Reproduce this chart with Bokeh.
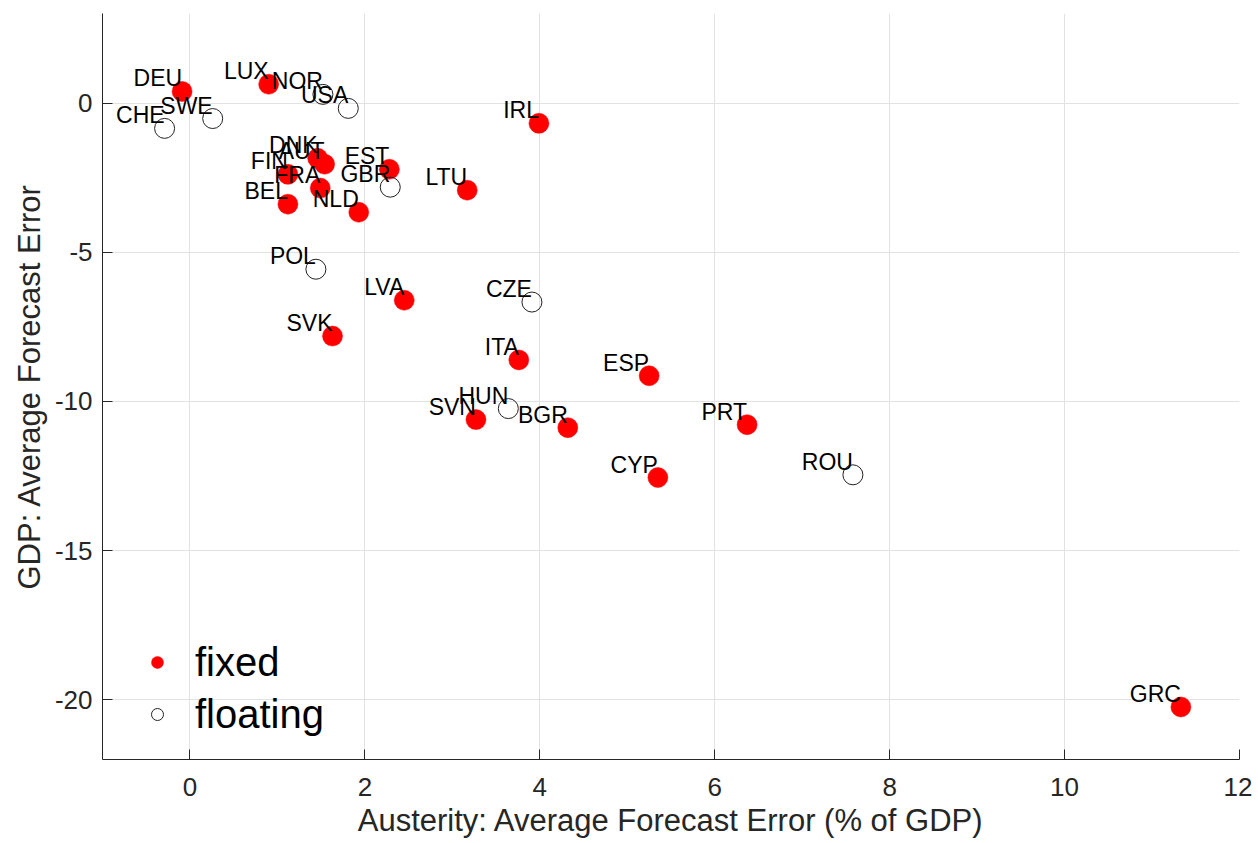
from bokeh.plotting import figure
from bokeh.models import ColumnDataSource, Legend, LegendItem, FixedTicker, Range1d
from bokeh.core.properties import value
from bokeh.embed import file_html
from bokeh.resources import INLINE

# ---- data ----
fixed_names = ["DEU", "LUX", "DNK", "AUT", "FIN", "FRA", "BEL", "NLD", "EST", "LTU",
               "IRL", "LVA", "SVK", "ITA", "ESP", "SVN", "BGR", "CYP", "PRT", "GRC"]
fixed_x = [-0.09, 0.90, 1.46, 1.54, 1.12, 1.49, 1.12, 1.93, 2.28, 3.17,
           3.99, 2.45, 1.63, 3.76, 5.25, 3.27, 4.32, 5.35, 6.37, 11.33]
fixed_y = [0.39, 0.63, -1.85, -2.05, -2.39, -2.85, -3.39, -3.66, -2.22, -2.92,
           -0.68, -6.61, -7.81, -8.61, -9.14, -10.61, -10.88, -12.55, -10.78, -20.24]

float_names = ["CHE", "SWE", "NOR", "USA", "GBR", "POL", "CZE", "HUN", "ROU"]
float_x = [-0.29, 0.26, 1.52, 1.81, 2.29, 1.44, 3.91, 3.64, 7.58]
float_y = [-0.85, -0.52, 0.29, -0.18, -2.82, -5.57, -6.67, -10.24, -12.46]

x_ticks = [0, 2, 4, 6, 8, 10, 12]
y_ticks = [-20, -15, -10, -5, 0]

FONT = "Liberation Sans"
AX = "#262626"

p = figure(width=1252, height=840, x_range=Range1d(-1, 12), y_range=Range1d(-22, 3),
           output_backend="svg", toolbar_location=None,
           min_border_left=102, min_border_right=13, min_border_top=13, min_border_bottom=80)
p.outline_line_color = None
p.background_fill_color = "white"

src_fixed = ColumnDataSource(dict(x=fixed_x, y=fixed_y, name=fixed_names))
src_float = ColumnDataSource(dict(x=float_x, y=float_y, name=float_names))

r_fixed = p.scatter("x", "y", source=src_fixed, size=20, marker="circle",
                    fill_color="#ff0000", line_color="#ff0000", line_width=0.5)
r_float = p.scatter("x", "y", source=src_float, size=20, marker="circle",
                    fill_color="white", fill_alpha=0, line_color="#222222", line_width=1)

for src in (src_fixed, src_float):
    p.text("x", "y", text="name", source=src, text_align="right", text_baseline="bottom",
           text_font=value(FONT), text_font_size="23px", text_color="black")

for ax in (p.xaxis, p.yaxis):
    ax.axis_line_color = AX
    ax.major_tick_line_color = AX
    ax.major_tick_in = 10
    ax.major_tick_out = 0
    ax.minor_tick_line_color = None
    ax.major_label_text_font = FONT
    ax.major_label_text_font_size = "26px"
    ax.major_label_text_color = AX
    ax.axis_label_text_font = FONT
    ax.axis_label_text_font_size = "31px"
    ax.axis_label_text_font_style = "normal"
    ax.axis_label_text_color = AX

p.xaxis.ticker = FixedTicker(ticks=x_ticks)
p.yaxis.ticker = FixedTicker(ticks=y_ticks)
p.xaxis.major_label_overrides = {t: str(t) for t in x_ticks}
p.yaxis.major_label_overrides = {t: str(t) for t in y_ticks}
p.xaxis.major_label_standoff = 18
p.yaxis.major_label_standoff = 10
p.xaxis.axis_label = "Austerity: Average Forecast Error (% of GDP)"
p.yaxis.axis_label = "GDP: Average Forecast Error"
p.xaxis.axis_label_standoff = 4
p.yaxis.axis_label_standoff = 5

p.xgrid.ticker = FixedTicker(ticks=x_ticks)
p.ygrid.ticker = FixedTicker(ticks=y_ticks)
for g in (p.xgrid, p.ygrid):
    g.grid_line_color = "#e2e2e2"
    g.grid_line_width = 1

legend = Legend(items=[LegendItem(label="fixed", renderers=[r_fixed]),
                       LegendItem(label="floating", renderers=[r_float])],
                location=(40, 21), glyph_width=30, glyph_height=30,
                label_text_font=FONT, label_text_font_size="40px", label_text_color="black",
                label_standoff=23, padding=0, margin=0, spacing=4, label_height=48,
                border_line_color=None, background_fill_alpha=0)
p.add_layout(legend)

open("out.html", "w").write(file_html(p, INLINE))
